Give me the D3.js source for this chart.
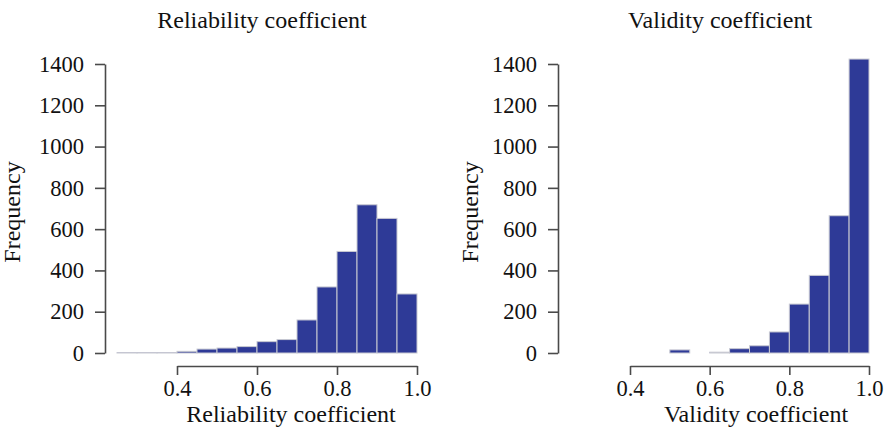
<!DOCTYPE html>
<html>
<head>
<meta charset="utf-8">
<script src="https://cdn.jsdelivr.net/npm/d3@7"></script>
<style>
  html, body { margin: 0; padding: 0; background: #fff; }
  svg { display: block; }
  text { font-family: "Liberation Serif", "Times New Roman", serif; fill: #111; }
</style>
</head>
<body>
<svg id="chart" width="891" height="435"></svg>
<script>
// ---- data ----
const binWidth = 0.05;
const relBinStarts = [0.25, 0.30, 0.35, 0.40, 0.45, 0.50, 0.55, 0.60, 0.65, 0.70, 0.75, 0.80, 0.85, 0.90, 0.95];
const relCounts    = [2, 2, 2, 8, 19, 24, 31, 55, 65, 160, 320, 492, 718, 652, 286];
const valBinStarts = [0.50, 0.60, 0.65, 0.70, 0.75, 0.80, 0.85, 0.90, 0.95];
const valCounts    = [15, 4, 21, 35, 102, 237, 376, 665, 1424];
const xTicks = [0.4, 0.6, 0.8, 1.0];
const yTicks = [0, 200, 400, 600, 800, 1000, 1200, 1400];
const titles = ["Reliability coefficient", "Validity coefficient"];
const xLabels = ["Reliability coefficient", "Validity coefficient"];
const yLabel = "Frequency";

// ---- layout ----
const svg = d3.select("#chart");
const FS = 22.5;
const LFS = 24;
const barFill = "#2e3a97";
const barStroke = "#c8c9d2";
const axisColor = "#4a4a4a";

const panels = [
  { starts: relBinStarts, counts: relCounts, yAxisX: 105, xRange: [177, 417], titleX: 262, xLabelX: 291, yLabelX: 20 },
  { starts: valBinStarts, counts: valCounts, yAxisX: 558, xRange: [630, 869], titleX: 720, xLabelX: 756, yLabelX: 478 }
];

panels.forEach((p, i) => {
  const g = svg.append("g");
  const x = d3.scaleLinear().domain([0.4, 1.0]).range(p.xRange);
  const y = d3.scaleLinear().domain([0, 1400]).range([353, 64]);

  // bars
  g.selectAll("rect.bar")
    .data(p.starts.map((s, k) => ({ s, c: p.counts[k] })))
    .join("rect")
    .attr("class", "bar")
    .attr("x", d => x(d.s))
    .attr("width", d => x(d.s + binWidth) - x(d.s))
    .attr("y", d => y(d.c))
    .attr("height", d => y(0) - y(d.c))
    .attr("fill", barFill)
    .attr("stroke", barStroke)
    .attr("stroke-width", 1);

  // y axis
  const ya = g.append("g")
    .attr("transform", `translate(${p.yAxisX},0)`)
    .call(d3.axisLeft(y).tickValues(yTicks).tickSize(10).tickSizeOuter(0).tickPadding(11).tickFormat(d3.format("d")));
  ya.selectAll("path, line").attr("stroke", axisColor).attr("stroke-width", 1.6);
  ya.selectAll("text").attr("font-size", FS).attr("font-family", "Liberation Serif").attr("fill", "#111");

  // x axis
  const xa = g.append("g")
    .attr("transform", "translate(0,366)")
    .call(d3.axisBottom(x).tickValues(xTicks).tickSize(9).tickSizeOuter(0).tickPadding(5).tickFormat(d3.format(".1f")));
  xa.selectAll("path, line").attr("stroke", axisColor).attr("stroke-width", 1.6);
  xa.selectAll("text").attr("font-size", FS).attr("font-family", "Liberation Serif").attr("fill", "#111");

  // titles
  g.append("text").attr("x", p.titleX).attr("y", 28).attr("text-anchor", "middle")
    .attr("font-size", LFS).text(titles[i]);
  g.append("text").attr("x", p.xLabelX).attr("y", 422).attr("text-anchor", "middle")
    .attr("font-size", LFS).text(xLabels[i]);
  g.append("text").attr("transform", `translate(${p.yLabelX},212) rotate(-90)`)
    .attr("text-anchor", "middle").attr("font-size", LFS).text(yLabel);
});
</script>
</body>
</html>
